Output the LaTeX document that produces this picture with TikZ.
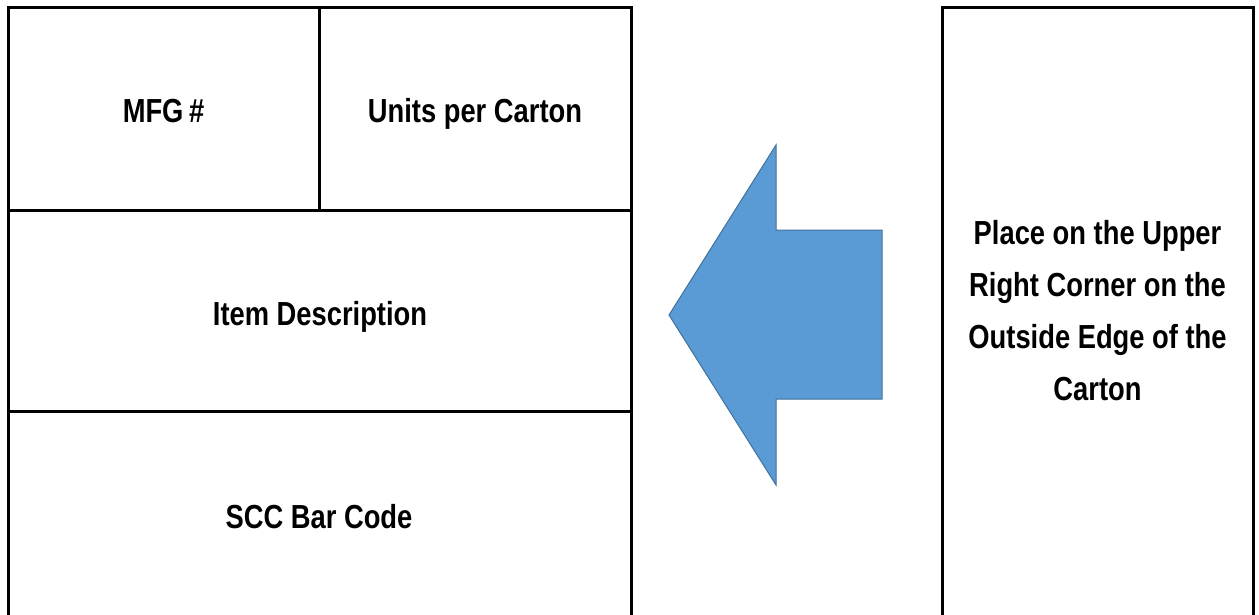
\documentclass[tikz,border=0pt]{standalone}
\usepackage{fontspec}
\setmainfont{Liberation Sans}[FakeStretch=0.82]
\definecolor{arrowfill}{HTML}{5B9BD5}
\definecolor{arrowline}{HTML}{41719C}
\begin{document}
\begin{tikzpicture}[x=0.75pt,y=-0.75pt,
  box/.style={line width=2.25pt, draw=black},
  lbl/.style={font=\fontsize{25}{39}\selectfont\bfseries, align=center, inner sep=0pt},
  bigarrow/.style={fill=arrowfill, draw=arrowline, line width=0.75pt, line join=miter}]
\useasboundingbox (0,0) rectangle (1259,614);
\clip (0,0) rectangle (1259,614);
% left label layout
\draw[box] (8,625) -- (8,7.5) -- (631,7.5) -- (631,625);
\draw[box] (8,210) -- (631,210);
\draw[box] (8,411) -- (631,411);
\draw[box] (319,7.5) -- (319,210);
% right carton edge
\draw[box] (942,625) -- (942,7.5) -- (1253,7.5) -- (1253,625);
% texts
\node[lbl, anchor=base] (mfg) at (163.5,122) {MFG\,\#};
\node[lbl, anchor=base] (units) at (475,122) {Units per Carton};
\node[lbl, anchor=base] (item) at (320,325) {Item Description};
\node[lbl, anchor=base] (scc) at (319,528) {SCC Bar Code};
\node[lbl] (place) at (1097.5,311) {Place on the Upper\\Right Corner on the\\Outside Edge of the\\Carton};
% arrow
\draw[bigarrow] (669,315) -- (776,145) -- (776,230) -- (882,230) -- (882,399) -- (776,399) -- (776,485) -- cycle;
\end{tikzpicture}
\end{document}
